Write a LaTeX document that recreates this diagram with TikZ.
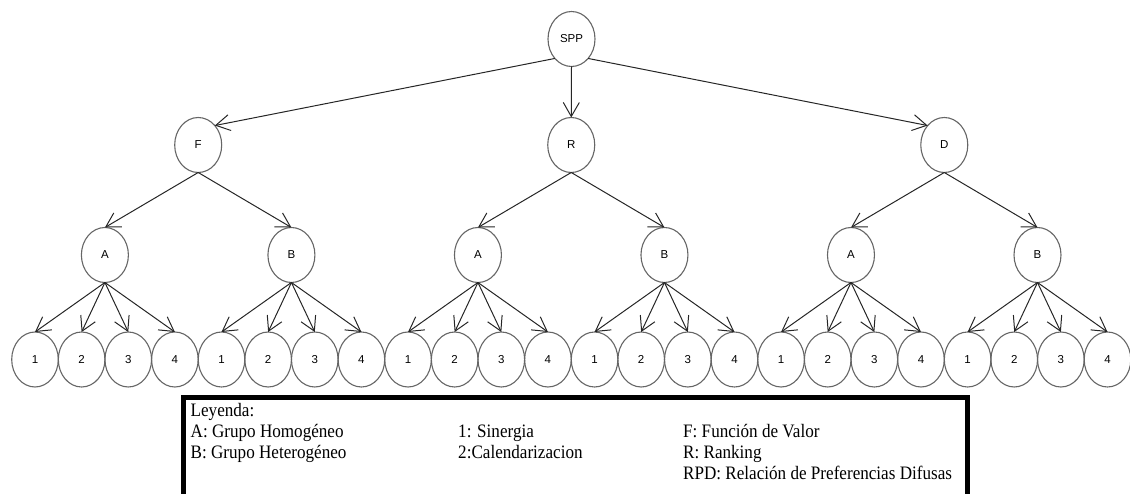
\documentclass[tikz,border=0pt]{standalone}
\usepackage{fontspec}
\setmainfont{Liberation Sans}
\newfontfamily\legendfont[FakeStretch=0.9]{Liberation Serif}
\usetikzlibrary{shapes.geometric,arrows.meta}
\begin{document}
\begin{tikzpicture}[x=1pt,y=-1pt,
  vnode/.style={ellipse, draw=black!60, line width=1.1pt, minimum width=47pt,
    minimum height=55pt, inner sep=0pt, outer sep=0pt,
    font=\fontsize{11.5}{13}\selectfont},
  leaf/.style={vnode, minimum width=46.6pt},
  edge/.style={draw=black!85, line width=1pt,
    -{Straight Barb[length=14pt,width=16pt]}},
  legtext/.style={anchor=base west, inner sep=0pt,
    font=\legendfont\fontsize{19}{21}\selectfont}]
\useasboundingbox (0,0) rectangle (1130,494);

% root
\node[vnode] (spp) at (571.5,39) {SPP};

% methods, group types and criteria
\foreach \p/\lab [count=\i from 0] in {f/F,r/R,d/D} {
  \node[vnode] (\p) at ({198.2+373.04*\i},145) {\lab};
  \foreach \g [count=\j from 0] in {A,B} {
    \node[vnode] (\p\g) at ({104.9+373.04*\i+186.52*\j},255) {\g};
    \draw[edge] (\p.south) -- (\p\g.north);
    \foreach \k in {1,...,4} {
      \node[leaf] (\p\g\k) at ({35+46.63*(8*\i+4*\j+\k-1)},359.5) {\k};
      \draw[edge] (\p\g.south) -- (\p\g\k.north);
    }
  }
}

\draw[edge] (spp.south west) -- (f.north east);
\draw[edge] (spp.south) -- (r.north);
\draw[edge] (spp.south east) -- (d.north west);

% legend
\node[draw, line width=5pt, anchor=north west, minimum width=784pt,
  minimum height=101pt, inner sep=0pt] (legend) at (180.5,394.5) {};
\node[legtext] (leg0) at (190.5,416.7) {Leyenda:};
\node[legtext] (legA) at (190.5,437.7) {A: Grupo Homogéneo};
\node[legtext] (legB) at (190.5,458.3) {B: Grupo Heterogéneo};
\node[legtext] (leg1) at (458,437.7) {1: Sinergia};
\node[legtext] (leg2) at (458,458.3) {2:Calendarizacion};
\node[legtext] (legF) at (683,437.7) {F: Función de Valor};
\node[legtext] (legR) at (683,458.3) {R: Ranking};
\node[legtext] (legP) at (683,479.5) {RPD: Relación de Preferencias Difusas};
\end{tikzpicture}
\end{document}
